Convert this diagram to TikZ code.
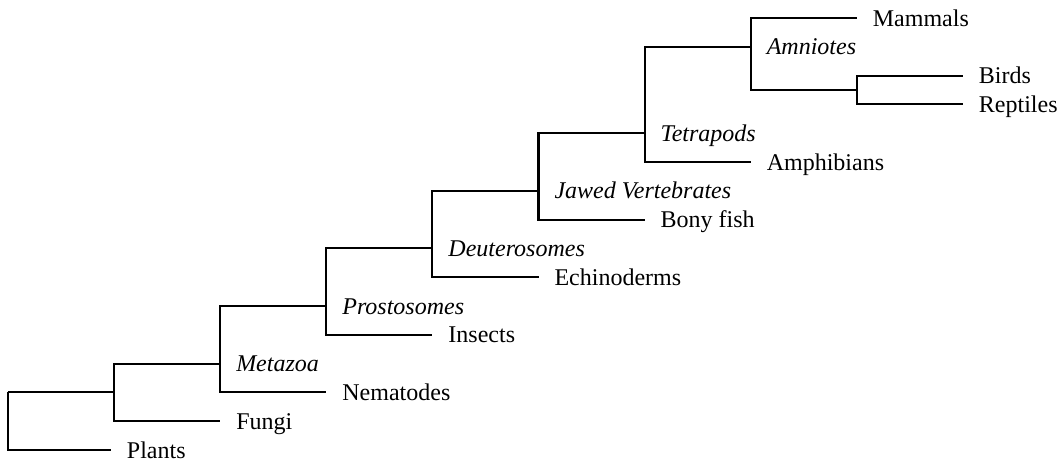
\documentclass[tikz,border=0pt]{standalone}
\usepackage{fontspec}
\setmainfont{Liberation Serif}
\definecolor{TreeInk}{HTML}{000000}

\begin{document}
\begin{tikzpicture}[x=53.05pt,y=-14.4pt,line width=1.05pt,draw=TreeInk,text=TreeInk,
  leaf/.style={anchor=west,inner xsep=7.5pt,inner ysep=0pt,text height=8pt,text depth=0pt,
    font=\fontsize{12}{14}\selectfont},
  clade/.style={leaf,font=\fontsize{12}{14}\selectfont\itshape}]
  \useasboundingbox (-0.0754,-0.625) rectangle (9.934,15.451);

  % branching points
  \coordinate (root) at (0,13);
  \coordinate (opisth) at (1,13);
  \coordinate (metazoa) at (2,12);
  \coordinate (protost) at (3,10);
  \coordinate (deutero) at (4,8);
  \coordinate (jawed) at (5,6);
  \coordinate (tetra) at (6,4);
  \coordinate (amnio) at (7,1);
  \coordinate (sauro) at (8,2.5);

  % clade names
  \node[clade] (metazoaL) at (metazoa) {Metazoa};
  \node[clade] (protostL) at (protost) {Prostosomes};
  \node[clade] (deuteroL) at (deutero) {Deuterosomes};
  \node[clade] (jawedL) at (jawed) {Jawed Vertebrates};
  \node[clade] (tetraL) at (tetra) {Tetrapods};
  \node[clade] (amnioL) at (amnio) {Amniotes};

  % taxa
  \node[leaf] (plants) at (0.97,15) {Plants};
  \node[leaf] (fungi) at (2,14) {Fungi};
  \node[leaf] (nema) at (3,13) {Nematodes};
  \node[leaf] (insects) at (4,11) {Insects};
  \node[leaf] (echino) at (5,9) {Echinoderms};
  \node[leaf] (bony) at (6,7) {Bony fish};
  \node[leaf] (amphi) at (7,5) {Amphibians};
  \node[leaf] (mammals) at (8,0) {Mammals};
  \node[leaf] (birds) at (9,2) {Birds};
  \node[leaf] (reptiles) at (9,3) {Reptiles};

  \draw (root) -- (opisth);
  \draw (root) |- (plants.west);
  \draw (opisth) |- (metazoa);
  \draw (opisth) |- (fungi.west);
  \draw (metazoa) |- (protost);
  \draw (metazoa) |- (nema.west);
  \draw (protost) |- (deutero);
  \draw (protost) |- (insects.west);
  \draw (deutero) |- (jawed);
  \draw (deutero) |- (echino.west);
  \draw (jawed) |- (tetra);
  \draw (jawed) |- (bony.west);
  \draw (tetra) |- (amnio);
  \draw (tetra) |- (amphi.west);
  \draw (amnio) |- (mammals.west);
  \draw (amnio) |- (sauro);
  \draw (sauro) |- (birds.west);
  \draw (sauro) |- (reptiles.west);
\end{tikzpicture}
\end{document}
